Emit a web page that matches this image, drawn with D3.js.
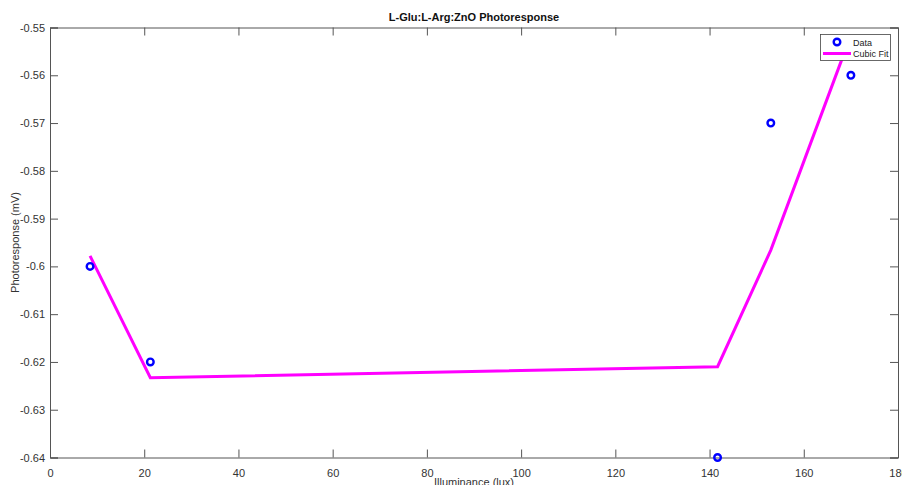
<!DOCTYPE html>
<html><head><meta charset="utf-8">
<script src="https://cdn.jsdelivr.net/npm/d3@7"></script>
<style>body{margin:0;background:#fff}svg{display:block;font-family:"Liberation Sans",Arial,sans-serif}</style>
</head><body><svg id="c" width="902" height="485"></svg>
<script>
const dataX = [8.5, 21.3, 141.7, 153.0, 170.0];
const dataY = [-0.60, -0.62, -0.64, -0.57, -0.56];
const fitY = [-0.5978, -0.6233, -0.6210, -0.5966, -0.5516];
const xTicks = [0, 20, 40, 60, 80, 100, 120, 140, 160, 180];
const yTicks = [-0.64, -0.63, -0.62, -0.61, -0.6, -0.59, -0.58, -0.57, -0.56, -0.55];
const seriesNames = ["Data", "Cubic Fit"];

const svg = d3.select("#c");
const L = 50, R = 898, T = 27.5, B = 457.5;
const x = d3.scaleLinear().domain([0, 180]).range([L, R]);
const y = d3.scaleLinear().domain([-0.64, -0.55]).range([B, T]);
const axCol = "#555", txtCol = "#333";

const fmt = d => (Math.round(d * 1000) / 1000).toString();
const gx = svg.append("g").attr("transform", `translate(0,${B})`)
  .call(d3.axisBottom(x).tickValues(xTicks).tickSize(-8).tickPadding(12).tickFormat(d => d));
const gy = svg.append("g").attr("transform", `translate(${L},0)`)
  .call(d3.axisLeft(y).tickValues(yTicks).tickSize(-8).tickPadding(5).tickFormat(fmt));
const gx2 = svg.append("g").attr("transform", `translate(0,${T})`)
  .call(d3.axisTop(x).tickValues(xTicks).tickSize(-8).tickFormat(""));
const gy2 = svg.append("g").attr("transform", `translate(${R},0)`)
  .call(d3.axisRight(y).tickValues(yTicks).tickSize(-8).tickFormat(""));
[gx, gy, gx2, gy2].forEach(g => {
  g.select(".domain").attr("stroke", axCol);
  g.selectAll(".tick line").attr("stroke", axCol);
  g.selectAll("text").attr("fill", txtCol).attr("font-size", 11);
});

// fit line
svg.append("path")
  .datum(dataX.map((d, i) => [d, fitY[i]]))
  .attr("fill", "none").attr("stroke", "#ff00ff").attr("stroke-width", 3)
  .attr("d", d3.line().x(d => x(d[0])).y(d => y(d[1])));

// data points
svg.append("g").selectAll("circle").data(dataX.map((d, i) => [d, dataY[i]])).join("circle")
  .attr("cx", d => x(d[0])).attr("cy", d => y(d[1])).attr("r", 3.3)
  .attr("fill", "none").attr("stroke", "#0000ff").attr("stroke-width", 2.4);

// title & labels
svg.append("text").attr("x", (L + R) / 2).attr("y", 21).attr("text-anchor", "middle")
  .attr("font-size", 11).attr("font-weight", "bold").attr("fill", "#111")
  .text("L-Glu:L-Arg:ZnO Photoresponse");
svg.append("text").attr("x", (L + R) / 2).attr("y", 486).attr("text-anchor", "middle")
  .attr("font-size", 11).attr("fill", txtCol).text("Illuminance (lux)");
svg.append("text").attr("transform", `translate(19,${(T + B) / 2}) rotate(-90)`)
  .attr("text-anchor", "middle").attr("font-size", 11).attr("fill", txtCol)
  .text("Photoresponse (mV)");

// legend
const lg = svg.append("g");
lg.append("rect").attr("x", 820.5).attr("y", 34.5).attr("width", 70).attr("height", 26)
  .attr("fill", "#fff").attr("stroke", "#444").attr("stroke-width", 0.8);
lg.append("circle").attr("cx", 837).attr("cy", 42).attr("r", 3.3)
  .attr("fill", "none").attr("stroke", "#0000ff").attr("stroke-width", 2.4);
lg.append("line").attr("x1", 823).attr("x2", 851).attr("y1", 53.5).attr("y2", 53.5)
  .attr("stroke", "#ff00ff").attr("stroke-width", 3);
seriesNames.forEach((n, i) => {
  lg.append("text").attr("x", 853).attr("y", 45.5 + i * 11).attr("font-size", 9)
    .attr("fill", "#222").text(n);
});
</script></body></html>
